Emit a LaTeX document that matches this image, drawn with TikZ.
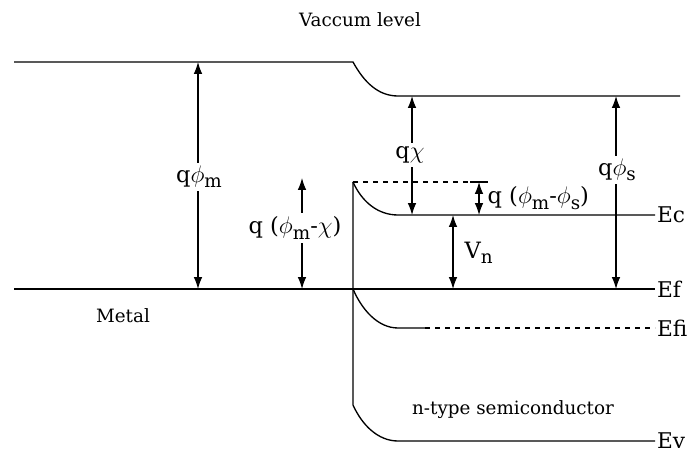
\documentclass[tikz,border=0pt]{standalone}
\usepackage{fontspec}
\setmainfont{DejaVu Serif}
\usepackage{tikz}
\usetikzlibrary{arrows.meta}

\newcommand{\lo}[1]{\raisebox{-0.45ex}{\fontsize{11}{13}\selectfont #1}}

\begin{document}
\begin{tikzpicture}[
    x=0.6pt, y=-0.6pt,
    band/.style={line width=0.8pt},
    dim/.style={{Latex[length=2.5mm,width=1.8mm]}-{Latex[length=2.5mm,width=1.8mm]}, line width=0.7pt},
    lbl/.style={font=\fontsize{11}{13}\selectfont, inner sep=1pt},
    lvl/.style={font=\fontsize{13}{15}\selectfont, inner sep=1pt, anchor=west},
    qlbl/.style={font=\fontsize{13.5}{16}\selectfont, inner sep=2pt},
    cut/.style={qlbl, fill=white}
  ]
    \useasboundingbox (0,0) rectangle (689,455);
    % band edges
    \coordinate (vacL) at (14,62);
    \coordinate (vacB) at (353,62);
    \coordinate (vacS) at (398,96);
    \coordinate (vacR) at (680,96);
    \coordinate (efL) at (14,289);
    \coordinate (efR) at (655,289);
    \coordinate (top) at (353,182);
    \coordinate (ecS) at (398,215);
    \coordinate (ecR) at (655,215);
    \coordinate (efiB) at (353,289);
    \coordinate (efiS) at (398,328);
    \coordinate (efiD) at (425,328);
    \coordinate (efiR) at (655,328);
    \coordinate (evB) at (353,405);
    \coordinate (evS) at (398,441);
    \coordinate (evR) at (655,441);
    \coordinate (dashR) at (470,182);
    \coordinate (tickR) at (488,182);

    \draw[band] (vacL) -- (vacB) .. controls (364,82) and (378,96) .. (vacS) -- (vacR);
    \draw[band] (efL) -- (efR);
    \draw[band] (top) .. controls (362,202) and (378,215) .. (ecS) -- (ecR);
    \draw[band, dashed] (top) -- (dashR);
    \draw[band] (dashR) -- (tickR);
    \draw[band] (top) -- (evB) .. controls (362,425) and (378,441) .. (evS) -- (evR);
    \draw[band] (efiB) .. controls (362,310) and (378,328) .. (efiS) -- (efiD);
    \draw[band, dashed] (efiD) -- (efiR);

    % level names
    \node[lvl] (ec) at (ecR) {Ec};
    \node[lvl] (ef) at (efR) {Ef};
    \node[lvl] (efi) at (efiR) {Efi};
    \node[lvl] (ev) at (evR) {Ev};
    \node[lbl] (vac) at (360,20) {Vaccum level};
    \node[lbl] (metal) at (123,316) {Metal};
    \node[lbl] (semi) at (513,410) {n-type semiconductor};

    % energy differences
    \coordinate (phimT) at (198,62);
    \coordinate (phimB) at (198,289);
    \draw[dim] (phimT) -- (phimB);
    \node[cut] (phim) at (199,177) {q$\phi$\lo{m}};

    \coordinate (mchiT) at (302,178);
    \coordinate (mchiB) at (302,289);
    \draw[dim] (mchiT) -- (mchiB);
    \node[cut] (mchi) at (295,228) {q ($\phi$\lo{m}-$\chi$)};

    \coordinate (chiT) at (412,96);
    \coordinate (chiB) at (412,215);
    \draw[dim] (chiT) -- (chiB);
    \node[cut] (chi) at (410,155) {q$\chi$};

    \coordinate (msT) at (479,182);
    \coordinate (msB) at (479,215);
    \draw[dim] (msT) -- (msB);
    \node[qlbl, anchor=west] (ms) at (484,198) {q ($\phi$\lo{m}-$\phi$\lo{s})};

    \coordinate (vnT) at (453,215);
    \coordinate (vnB) at (453,289);
    \draw[dim] (vnT) -- (vnB);
    \node[qlbl, anchor=west] (vn) at (461,253) {V\lo{n}};

    \coordinate (phisT) at (616,96);
    \coordinate (phisB) at (616,289);
    \draw[dim] (phisT) -- (phisB);
    \node[cut] (phis) at (617,170) {q$\phi$\lo{s}};
  \end{tikzpicture}
\end{document}
